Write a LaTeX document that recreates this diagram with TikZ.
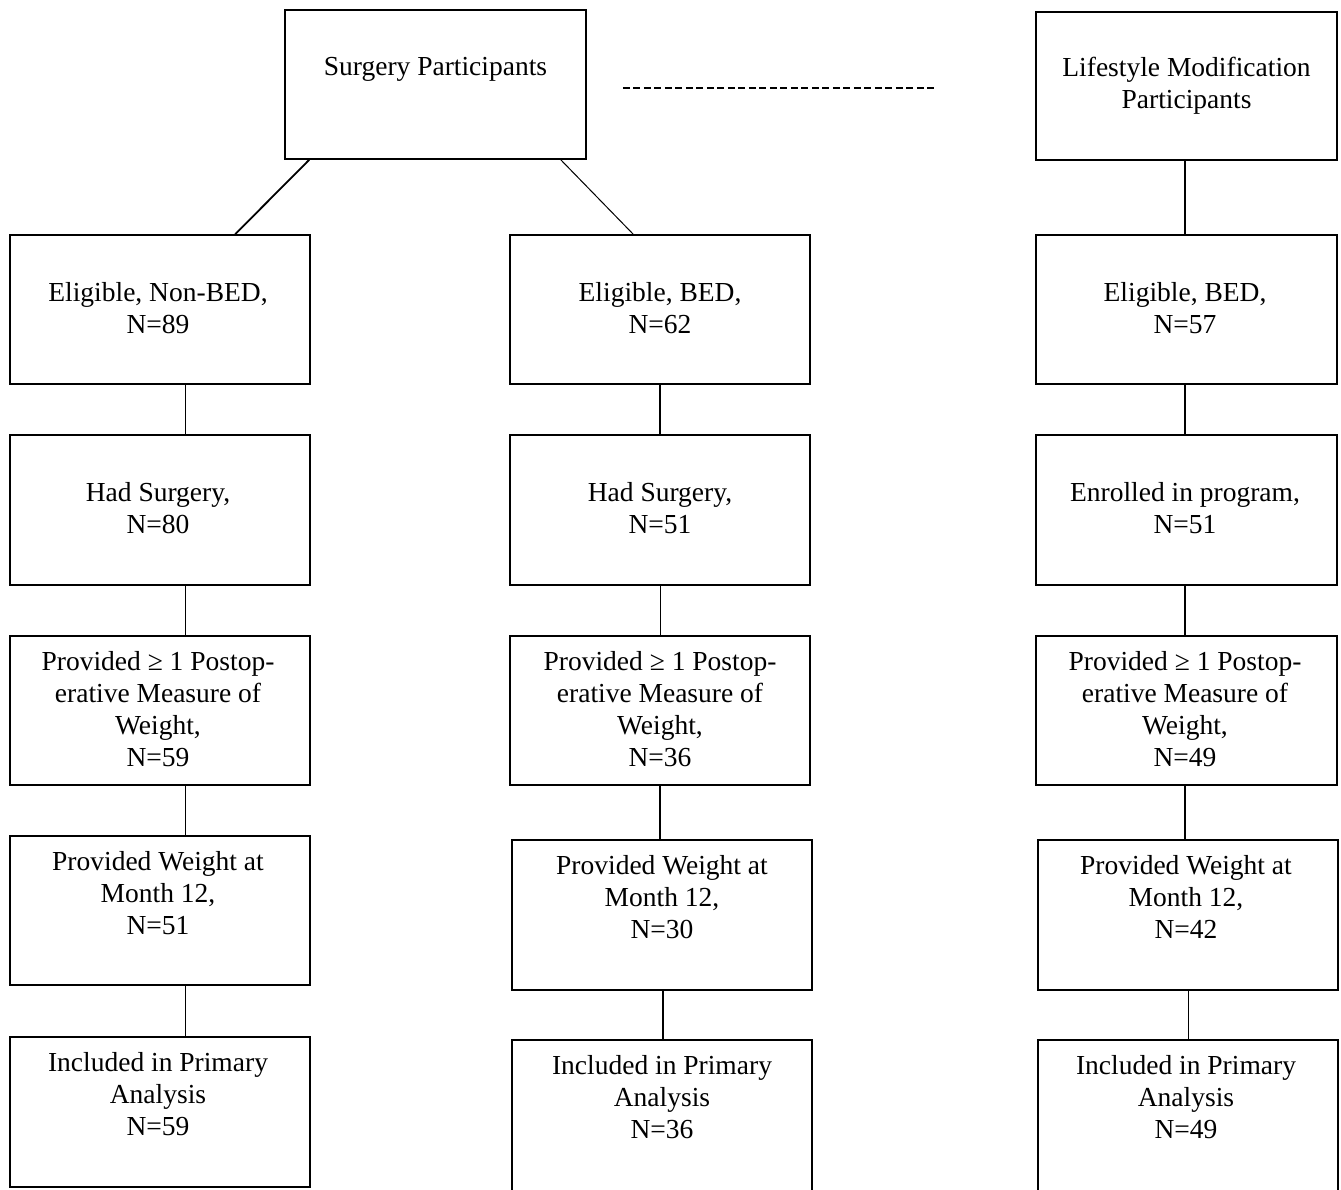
\documentclass[tikz,border=0pt]{standalone}
\usepackage{fontspec}
\setmainfont{Liberation Serif}
\begin{document}
\begin{tikzpicture}[x=1pt,y=-1pt,
  box/.style={draw, line width=1.6pt, inner sep=0pt, minimum width=300pt, minimum height=150pt},
  txt/.style={inner sep=0pt, align=center, anchor=north, font=\fontsize{27.5}{32}\selectfont},
  heavylink/.style={line width=1.8pt},
  lightlink/.style={line width=1pt},
  dashlink/.style={line width=2.4pt, dash pattern=on 7pt off 3.5pt}]
\path[use as bounding box] (0,0) rectangle (1341,1189);
\clip (0,0) rectangle (1341,1189);

% top boxes
\node[box, minimum width=301pt, minimum height=149pt] (S) at (435.5,84.5) {};
\node[txt] (St) at ([yshift=-47.5pt]S.north) {Surgery Participants};
\node[box, minimum width=301pt, minimum height=148pt] (L) at (1186.5,86) {};
\node[txt] (Lt) at ([yshift=-46pt]L.north) {Lifestyle Modification\\Participants};

% row 1
\node[box, minimum height=149pt] (a1) at (160,309.5) {};
\node[txt] (a1t) at ([xshift=-2pt,yshift=-48pt]a1.north) {Eligible, Non-BED,\\N=89};
\node[box, minimum height=149pt] (b1) at (660,309.5) {};
\node[txt] (b1t) at ([yshift=-48pt]b1.north) {Eligible, BED,\\N=62};
\node[box, minimum width=301pt, minimum height=149pt] (c1) at (1186.5,309.5) {};
\node[txt] (c1t) at ([xshift=-1.5pt,yshift=-48pt]c1.north) {Eligible, BED,\\N=57};

% row 2
\node[box] (a2) at (160,510) {};
\node[txt] (a2t) at ([xshift=-2pt,yshift=-48pt]a2.north) {Had Surgery,\\N=80};
\node[box] (b2) at (660,510) {};
\node[txt] (b2t) at ([yshift=-48pt]b2.north) {Had Surgery,\\N=51};
\node[box, minimum width=301pt] (c2) at (1186.5,510) {};
\node[txt] (c2t) at ([xshift=-1.5pt,yshift=-48pt]c2.north) {Enrolled in program,\\N=51};

% row 3
\node[box, minimum height=149pt] (a3) at (160,710.5) {};
\node[txt] (a3t) at ([xshift=-2pt,yshift=-16.5pt]a3.north) {Provided ≥ 1 Postop-\\erative Measure of\\Weight,\\N=59};
\node[box, minimum height=149pt] (b3) at (660,710.5) {};
\node[txt] (b3t) at ([yshift=-16.5pt]b3.north) {Provided ≥ 1 Postop-\\erative Measure of\\Weight,\\N=36};
\node[box, minimum width=301pt, minimum height=149pt] (c3) at (1186.5,710.5) {};
\node[txt] (c3t) at ([xshift=-1.5pt,yshift=-16.5pt]c3.north) {Provided ≥ 1 Postop-\\erative Measure of\\Weight,\\N=49};

% row 4
\node[box, minimum height=149pt] (a4) at (160,910.5) {};
\node[txt] (a4t) at ([xshift=-2pt,yshift=-16.5pt]a4.north) {Provided Weight at\\Month 12,\\N=51};
\node[box] (b4) at (662,915) {};
\node[txt] (b4t) at ([yshift=-16.5pt]b4.north) {Provided Weight at\\Month 12,\\N=30};
\node[box] (c4) at (1188,915) {};
\node[txt] (c4t) at ([xshift=-2pt,yshift=-16.5pt]c4.north) {Provided Weight at\\Month 12,\\N=42};

% row 5
\node[box] (a5) at (160,1112) {};
\node[txt] (a5t) at ([xshift=-2pt,yshift=-16.5pt]a5.north) {Included in Primary\\Analysis\\N=59};
\node[box, minimum height=160pt] (b5) at (662,1120) {};
\node[txt] (b5t) at ([yshift=-16.5pt]b5.north) {Included in Primary\\Analysis\\N=36};
\node[box, minimum height=160pt] (c5) at (1188,1120) {};
\node[txt] (c5t) at ([xshift=-2pt,yshift=-16.5pt]c5.north) {Included in Primary\\Analysis\\N=49};

% connectors
\draw[heavylink] ([xshift=25pt]S.south west) -- ([xshift=226pt]a1.north west);
\draw[lightlink] ([xshift=-26pt]S.south east) -- ([xshift=124pt]b1.north west);
\draw[dashlink] ([xshift=36pt,yshift=-3.5pt]S.east) -- ([xshift=-101pt,yshift=-2pt]L.west);

\draw[lightlink] ([xshift=25pt]a1.south) -- ([xshift=25pt]a2.north);
\draw[lightlink] ([xshift=25pt]a2.south) -- ([xshift=25pt]a3.north);
\draw[lightlink] ([xshift=25pt]a3.south) -- ([xshift=25pt]a4.north);
\draw[lightlink] ([xshift=25pt]a4.south) -- ([xshift=25pt]a5.north);

\draw[heavylink] (b1.south) -- (b2.north);
\draw[lightlink] (b2.south) -- (b3.north);
\draw[heavylink] (b3.south) -- ([xshift=-2pt]b4.north);
\draw[heavylink] ([xshift=1pt]b4.south) -- ([xshift=1pt]b5.north);

\draw[heavylink] ([xshift=-1.5pt]L.south) -- ([xshift=-1.5pt]c1.north);
\draw[heavylink] ([xshift=-1.5pt]c1.south) -- ([xshift=-1.5pt]c2.north);
\draw[heavylink] ([xshift=-1.5pt]c2.south) -- ([xshift=-1.5pt]c3.north);
\draw[heavylink] ([xshift=-1.5pt]c3.south) -- ([xshift=-3pt]c4.north);
\draw[lightlink] (c4.south) -- (c5.north);
\end{tikzpicture}
\end{document}
